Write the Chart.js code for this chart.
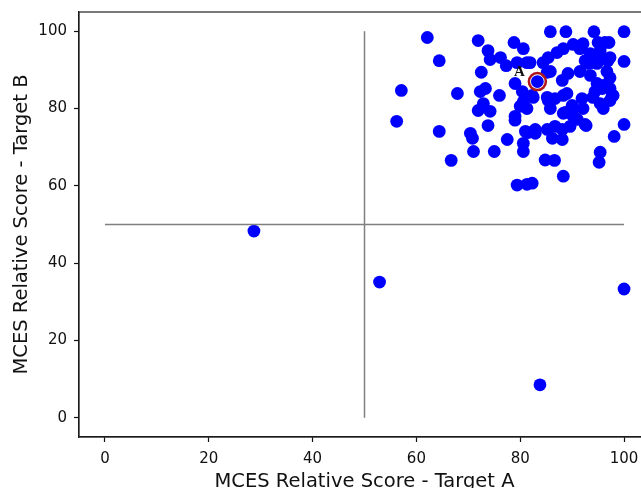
<!DOCTYPE html>
<html lang="en">
<head>
<meta charset="UTF-8">
<title>MCES Relative Score</title>
<style>
    body { margin: 0; overflow: hidden; background: #fff; }
    #wrap { width: 660px; height: 500px; }
</style>
<script src="https://cdn.jsdelivr.net/npm/chart.js@4.4.0/dist/chart.umd.min.js"></script>
</head>
<body>
<div id="wrap"><canvas id="myChart"></canvas></div>

<script type="text/javascript">
// score relativo MCES, target A (x) e target B (y)
var scoreA = [
    28.7, 52.9, 83.8, 100.0,
    56.2, 57.1, 62.1, 64.4, 64.4, 66.7, 67.9, 70.4, 70.8, 71.0, 71.9, 71.9,
    72.3, 72.5, 73.3, 72.9, 73.8, 73.8, 74.2, 74.2, 75.0, 76.0, 76.2, 77.3,
    77.5, 78.8, 79.0, 79.0, 79.0, 79.4, 79.4, 80.0, 80.4, 80.6, 80.6, 81.0,
    80.6, 80.6, 81.3, 81.3, 81.3, 81.9, 82.3, 82.3, 83.3, 82.9, 84.4, 84.8,
    86.6, 85.2, 85.4, 85.4, 85.8, 85.8, 85.8, 86.2, 86.7, 86.7, 87.1, 88.1,
    88.1, 88.1, 88.3, 88.3, 88.3, 88.3, 88.8, 89.2, 89.6, 90.0, 90.0, 90.2,
    90.2, 91.0, 91.5, 91.5, 92.1, 92.1, 92.5, 92.5, 93.5, 93.8, 94.2, 94.4,
    94.8, 95.0, 95.4, 95.4, 95.2, 95.8, 96.0, 96.7, 97.1, 97.3, 97.7, 98.1,
    100.0, 100.0, 100.0,
    85.2, 92.9, 94.8, 96.9, 93.5, 95.4, 97.3, 96.0, 97.3, 82.5, 85.2, 89.0,
    91.9, 94.0, 95.4, 97.3, 97.9, 96.3, 81.5, 82.9, 88.7, 92.7
];
var scoreB = [
    48.3, 35.1, 8.5, 33.3,
    76.7, 84.7, 98.4, 92.4, 74.1, 66.6, 83.9, 73.6, 72.3, 68.9, 97.6, 79.5,
    84.4, 89.4, 85.2, 81.3, 95.0, 75.6, 92.7, 79.3, 68.9, 83.4, 93.2, 91.1,
    72.0, 97.1, 86.5, 78.0, 77.0, 91.9, 60.2, 80.6, 84.4, 95.5, 81.8, 74.1,
    71.0, 68.9, 91.9, 80.0, 60.4, 91.9, 83.4, 60.7, 87.0, 74.6, 91.9, 66.7,
    66.6, 74.6, 93.2, 82.1, 99.9, 89.6, 80.0, 72.3, 82.6, 75.4, 94.5, 87.3,
    74.6, 72.0, 95.5, 83.4, 78.8, 62.5, 99.9, 89.1, 75.4, 80.8, 78.8, 96.6,
    78.0, 77.2, 95.5, 89.6, 96.8, 80.0, 92.4, 75.9, 88.6, 91.9, 99.9, 84.4,
    86.5, 97.1, 93.0, 68.7, 66.1, 85.2, 80.0, 89.6, 97.1, 93.2, 83.4, 72.8,
    99.9, 92.2, 75.9,
    89.4, 91.7, 91.7, 92.4, 94.2, 95.0, 88.0, 86.0, 85.2, 82.9, 82.9, 83.9,
    82.6, 82.9, 81.3, 82.1, 83.4, 97.1, 73.8, 73.6, 79.0, 75.6
];

// punto evidenziato
var labelA = "A";
var pointA = [83.3, 87.0];

// linee dei quadranti
var splitX = [50, 50];
var splitXy = [0, 100];
var splitYx = [0, 100];
var splitY = [50, 50];

var tickValues = [0, 20, 40, 60, 80, 100];
var axisMin = -5;
var axisMax = 105;
var titleX = "MCES Relative Score - Target A";
var titleY = "MCES Relative Score - Target B";

var points = [];
for (var i = 0; i < scoreA.length; i++) {
    points.push({x: scoreA[i], y: scoreB[i]});
}

// cornice completa, anello rosso ed etichetta del punto A
const framePlugin = {
    id: 'frame',
    afterDatasetsDraw(chart) {
        const ctx = chart.ctx;
        const a = chart.chartArea;
        const xs = chart.scales.x;
        const ys = chart.scales.y;
        ctx.save();
        const px = xs.getPixelForValue(pointA[0]);
        const py = ys.getPixelForValue(pointA[1]);
        ctx.strokeStyle = '#b0151b';
        ctx.lineWidth = 2.5;
        ctx.beginPath();
        ctx.arc(px, py, 8.5, 0, Math.PI * 2);
        ctx.stroke();
        ctx.fillStyle = '#111';
        ctx.font = 'bold 15px "Liberation Serif"';
        ctx.textAlign = 'center';
        ctx.textBaseline = 'middle';
        ctx.fillText(labelA, px - 18, py - 9);

        ctx.strokeStyle = '#222';
        ctx.lineWidth = 1.2;
        ctx.strokeRect(a.left, a.top, a.right - a.left, a.bottom - a.top);
        ctx.restore();
    }
};

const fixedTicks = function(scale) {
    scale.ticks = tickValues.map(function(v) { return {value: v}; });
};

const config = {
    type: 'scatter',
    data: {
        datasets: [
            {
                type: 'line',
                data: splitXy.map(function(v, k) { return {x: splitX[k], y: v}; }),
                borderColor: '#808080',
                borderWidth: 1.5,
                pointRadius: 0,
                showLine: true
            },
            {
                type: 'line',
                data: splitYx.map(function(v, k) { return {x: v, y: splitY[k]}; }),
                borderColor: '#808080',
                borderWidth: 1.5,
                pointRadius: 0,
                showLine: true
            },
            {
                data: points,
                backgroundColor: '#0000ff',
                borderWidth: 0,
                pointRadius: 6.4
            }
        ]
    },
    options: {
        responsive: true,
        maintainAspectRatio: false,
        animation: false,
        layout: {padding: {left: 0, right: 10, top: 12, bottom: 0}},
        plugins: {legend: {display: false}, tooltip: {enabled: false}},
        scales: {
            x: {
                type: 'linear',
                min: axisMin,
                max: axisMax,
                afterBuildTicks: fixedTicks,
                afterFit: function(s) { s.height = 63; s.paddingLeft = 0; s.paddingRight = 0; },
                grid: {drawOnChartArea: false, tickLength: 5, color: '#111', tickWidth: 1.2},
                border: {color: '#111', width: 1.2},
                ticks: {color: '#111', padding: 8, font: {family: 'DejaVu Sans', size: 15}, maxRotation: 0},
                title: {display: true, text: titleX, color: '#111', font: {family: 'DejaVu Sans', size: 19.5}, padding: {top: 0, bottom: 6}}
            },
            y: {
                type: 'linear',
                min: axisMin,
                max: axisMax,
                afterBuildTicks: fixedTicks,
                afterFit: function(s) { s.width = 79; s.paddingTop = 0; s.paddingBottom = 0; },
                grid: {drawOnChartArea: false, tickLength: 5, color: '#111', tickWidth: 1.2},
                border: {color: '#111', width: 1.2},
                ticks: {color: '#111', padding: 7, font: {family: 'DejaVu Sans', size: 15}},
                title: {display: true, text: titleY, color: '#111', font: {family: 'DejaVu Sans', size: 19.5}, padding: {top: 10, bottom: 0}}
            }
        }
    },
    plugins: [framePlugin]
};

var myChart = new Chart(document.getElementById('myChart'), config);
</script>
</body>
</html>
